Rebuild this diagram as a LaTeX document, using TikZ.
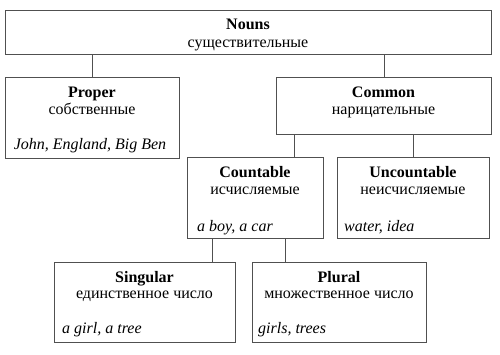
\documentclass[tikz,border=0pt]{standalone}
\usepackage{fontspec}
\setmainfont{LiberationSerif}[Extension=.ttf, UprightFont=*-Regular, BoldFont=*-Bold, ItalicFont=*-Italic, BoldItalicFont=*-BoldItalic]
\begin{document}
\begin{tikzpicture}[x=1pt,y=-1pt,
  box/.style={draw=linecol, line width=0.9pt, inner sep=0pt, anchor=north west},
  ttl/.style={inner sep=0pt, anchor=base, font=\rmfamily\fontsize{16}{19}\selectfont\bfseries},
  rus/.style={inner sep=0pt, anchor=base, font=\rmfamily\fontsize{16}{19}\selectfont},
  ex/.style={inner sep=0pt, anchor=base west, font=\rmfamily\fontsize{16}{19}\selectfont\itshape},
  conn/.style={draw=linecol, line width=0.9pt}]
\definecolor{linecol}{HTML}{505050}
\useasboundingbox (0,0) rectangle (500,354);
% boxes
\node[box, minimum width=486, minimum height=44] (nouns) at (5,10) {};
\node[box, minimum width=174, minimum height=81] (proper) at (5,77) {};
\node[box, minimum width=215, minimum height=57] (common) at (276,77) {};
\node[box, minimum width=136, minimum height=81] (countable) at (187,157) {};
\node[box, minimum width=152, minimum height=81] (uncountable) at (337,157) {};
\node[box, minimum width=181, minimum height=80] (singular) at (54,262) {};
\node[box, minimum width=174, minimum height=80] (plural) at (252,262) {};
% texts
\node[ttl] (t1) at (248,29) {Nouns};
\node[rus] (r1) at (248,47) {существительные};
\node[ttl] (t2) at (92,97) {Proper};
\node[rus] (r2) at (92,114) {собственные};
\node[ex, anchor=base] (e2) at (90,149) {John, England, Big Ben};
\node[ttl] (t3) at (383.5,97) {Common};
\node[rus] (r3) at (383.5,114) {нарицательные};
\node[ttl] (t4) at (255,177) {Countable};
\node[rus] (r4) at (255,194) {исчисляемые};
\node[ex] (e4) at (197,231) {a boy, a car};
\node[ttl] (t5) at (413,177) {Uncountable};
\node[rus] (r5) at (413,194) {неисчисляемые};
\node[ex] (e5) at (344,231) {water, idea};
\node[ttl] (t6) at (144.5,282) {Singular};
\node[rus] (r6) at (144.5,298) {единственное число};
\node[ex] (e6) at (62,333) {a girl, a tree};
\node[ttl] (t7) at (339,282) {Plural};
\node[rus] (r7) at (339,298) {множественное число};
\node[ex] (e7) at (258,333) {girls, trees};
% connectors
\draw[conn] (nouns.south -| proper.north) -- (proper.north);
\draw[conn] (nouns.south -| common.north) -- (common.north);
\coordinate (c1) at (294,0);
\coordinate (c2) at (212,0);
\coordinate (c3) at (285,0);
\draw[conn] (common.south -| c1) -- (countable.north -| c1);
\draw[conn] (common.south -| uncountable.north) -- (uncountable.north);
\draw[conn] (countable.south -| c2) -- (singular.north -| c2);
\draw[conn] (countable.south -| c3) -- (plural.north -| c3);
\end{tikzpicture}
\end{document}
